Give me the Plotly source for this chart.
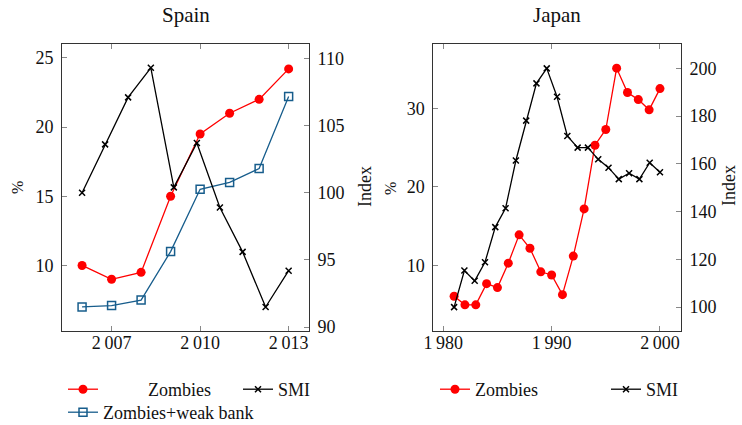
import plotly.graph_objects as go

# ---------------- data ----------------
spain_years = [2006, 2007, 2008, 2009, 2010, 2011, 2012, 2013]
spain_zombies = [10.0, 9.0, 9.5, 15.0, 19.5, 21.0, 22.0, 24.2]
spain_zombies_weak = [7.0, 7.1, 7.5, 11.0, 15.5, 16.0, 17.0, 22.2]
spain_smi_x = [2006, 2006.78, 2007.56, 2008.33, 2009.11, 2009.89, 2010.67, 2011.44, 2012.22, 2013]
spain_smi = [100.0, 103.6, 107.1, 109.3, 100.4, 103.7, 98.9, 95.6, 91.5, 94.2]

japan_years = [1981, 1982, 1983, 1984, 1985, 1986, 1987, 1988, 1989, 1990,
               1991, 1992, 1993, 1994, 1995, 1996, 1997, 1998, 1999, 2000]
japan_zombies = [6.1, 5.0, 5.0, 7.7, 7.2, 10.3, 13.9, 12.2, 9.2, 8.8,
                 6.3, 11.2, 17.2, 25.3, 27.3, 35.1, 32.0, 31.1, 29.8, 32.5]
japan_smi_x = [1981, 1981.95, 1982.9, 1983.85, 1984.8, 1985.75, 1986.7, 1987.65,
               1988.6, 1989.55, 1990.5, 1991.45, 1992.4, 1993.35, 1994.3, 1995.25,
               1996.2, 1997.15, 1998.1, 1999.05, 2000]
japan_smi = [100.0, 115.3, 111.0, 118.8, 133.5, 141.4, 161.4, 178.1, 193.7, 200.0,
             188.1, 171.7, 166.8, 166.8, 161.9, 158.4, 153.6, 156.1, 153.6, 160.5, 156.5]

spain_xticks = [2007, 2010, 2013]
spain_xticktext = ["2\u2009007", "2\u2009010", "2\u2009013"]
spain_yticks = [10, 15, 20, 25]
spain_y2ticks = [90, 95, 100, 105, 110]
japan_xticks = [1980, 1990, 2000]
japan_xticktext = ["1\u2009980", "1\u2009990", "2\u2009000"]
japan_yticks = [10, 20, 30]
japan_y2ticks = [100, 120, 140, 160, 180, 200]

# ---------------- style ----------------
W, H = 742, 425
FONT = "Liberation Serif"
RED = "#ff0000"
BLUE = "#175d8c"
BLACK = "#000000"
AXCOL = "#333333"
TICKCOL = "#888888"

def px(x):
    return x / W

def py(y):
    return 1 - y / H

ydom = [py(330.5), py(44)]

fig = go.Figure()

pad = "\u00a0" * 10
fig.add_trace(go.Scatter(x=spain_years, y=spain_zombies, name=pad + "Zombies",
                         mode="lines+markers", line=dict(color=RED, width=1.3),
                         marker=dict(symbol="circle", size=9, color=RED),
                         xaxis="x", yaxis="y", legend="legend"))
fig.add_trace(go.Scatter(x=spain_smi_x, y=spain_smi, name="SMI",
                         mode="lines+markers", line=dict(color=BLACK, width=1.3),
                         marker=dict(symbol="x-thin", size=6, color=BLACK,
                                     line=dict(width=1.5, color=BLACK)),
                         xaxis="x", yaxis="y2", legend="legend"))
fig.add_trace(go.Scatter(x=spain_years, y=spain_zombies_weak, name="Zombies+weak bank",
                         mode="lines+markers", line=dict(color=BLUE, width=1.3),
                         marker=dict(symbol="square-open", size=8, color=BLUE,
                                     line=dict(width=1.5, color=BLUE)),
                         xaxis="x", yaxis="y", legend="legend2"))

fig.add_trace(go.Scatter(x=japan_years, y=japan_zombies, name="Zombies",
                         mode="lines+markers", line=dict(color=RED, width=1.3),
                         marker=dict(symbol="circle", size=9, color=RED),
                         xaxis="x2", yaxis="y3", legend="legend3"))
fig.add_trace(go.Scatter(x=japan_smi_x, y=japan_smi, name="SMI",
                         mode="lines+markers", line=dict(color=BLACK, width=1.3),
                         marker=dict(symbol="x-thin", size=6, color=BLACK,
                                     line=dict(width=1.5, color=BLACK)),
                         xaxis="x2", yaxis="y4", legend="legend3"))

tickfont = dict(family=FONT, size=18, color="#111111")
common = dict(showline=True, linecolor=AXCOL, linewidth=1, ticks="inside",
              ticklen=5, tickcolor=TICKCOL, tickwidth=1, showgrid=False,
              zeroline=False, tickfont=tickfont, automargin=False)

fig.update_layout(
    width=W, height=H,
    margin=dict(l=0, r=0, t=0, b=0, autoexpand=False),
    paper_bgcolor="white", plot_bgcolor="white",
    font=dict(family=FONT, size=18, color="#111111"),
    xaxis=dict(domain=[px(62), px(309)], range=[2005.32, 2013.69], anchor="y",
               tickvals=spain_xticks, ticktext=spain_xticktext, mirror="ticks",
               ticklabelstandoff=-4, **common),
    yaxis=dict(domain=ydom, range=[5.3, 26.0], anchor="x", tickvals=spain_yticks,
               ticklabelstandoff=4, **common),
    yaxis2=dict(range=[89.75, 111.07], overlaying="y", side="right", anchor="x",
                tickvals=spain_y2ticks, ticklabelstandoff=4, **common),
    xaxis2=dict(domain=[px(433.3), px(681)], range=[1979.08, 2001.94], anchor="y3",
                tickvals=japan_xticks, ticktext=japan_xticktext, mirror="ticks",
                ticklabelstandoff=-4, **common),
    yaxis3=dict(domain=ydom, range=[1.74, 38.17], anchor="x2", tickvals=japan_yticks,
                ticklabelstandoff=4, **common),
    yaxis4=dict(range=[90.2, 210.2], overlaying="y3", side="right", anchor="x2",
                tickvals=japan_y2ticks, ticklabelstandoff=4, **common),
    legend=dict(orientation="h", x=px(63), y=py(371), xanchor="left", yanchor="top",
                entrywidth=130, font=dict(family=FONT, size=18), bgcolor="rgba(0,0,0,0)"),
    legend2=dict(orientation="h", x=px(63), y=py(394), xanchor="left", yanchor="top",
                 font=dict(family=FONT, size=18), bgcolor="rgba(0,0,0,0)"),
    legend3=dict(orientation="h", x=px(435), y=py(371), xanchor="left", yanchor="top",
                 entrywidth=126, font=dict(family=FONT, size=18), bgcolor="rgba(0,0,0,0)"),
    showlegend=True,
)

annots = [
    dict(text="Spain", x=px(185.5), y=py(15), font=dict(family=FONT, size=21)),
    dict(text="Japan", x=px(557), y=py(15), font=dict(family=FONT, size=21)),
    dict(text="%", x=px(17), y=py(188), textangle=-90, font=dict(family=FONT, size=16)),
    dict(text="Index", x=px(365), y=py(187), textangle=-90, font=dict(family=FONT, size=18)),
    dict(text="%", x=px(390), y=py(188), textangle=-90, font=dict(family=FONT, size=16)),
    dict(text="Index", x=px(729), y=py(186), textangle=-90, font=dict(family=FONT, size=18)),
]
for a in annots:
    fig.add_annotation(xref="paper", yref="paper", showarrow=False,
                       xanchor="center", yanchor="middle", **a)

fig.write_html("out.html",
               config={"displayModeBar": False},
               post_script="document.body.style.margin='0';document.body.style.overflow='hidden';")
